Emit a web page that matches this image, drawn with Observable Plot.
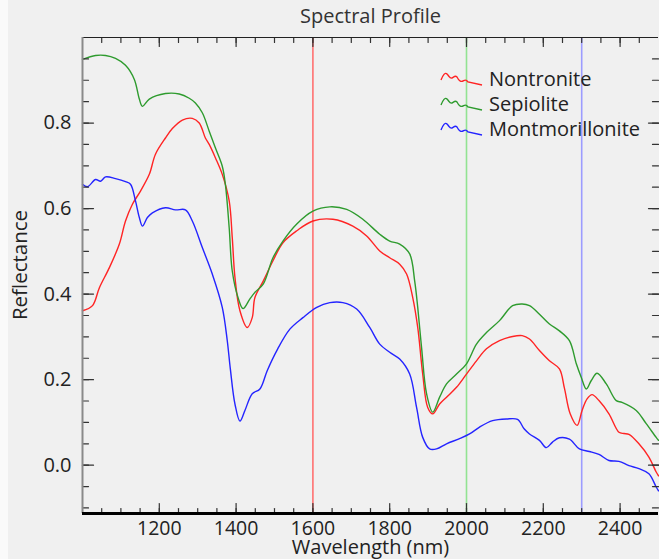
<!DOCTYPE html>
<html><head><meta charset="utf-8">
<script src="https://cdn.jsdelivr.net/npm/d3@7"></script>
<script src="https://cdn.jsdelivr.net/npm/@observablehq/plot@0.6"></script>
<style>
html,body{margin:0;padding:0;background:#f0f0f0;}
#chart{position:relative;width:659px;height:559px;}
</style>
</head><body><div id="chart"></div>
<script>
// ---- data ----
const seriesNames = ["Nontronite", "Sepiolite", "Montmorillonite"];
const seriesColors = ["#ff2424", "#2e9b2e", "#2424ff"];

const nontroniteWl = [1000,1026,1044,1070,1096,1112,1130,1151,1174,1190,1216,1234,1260,1286,1304,1320,1330,1346,1364,1382,1390,1397,1410,1429,1442,1449,1471,1496,1522,1558,1600,1652,1704,1740,1774,1800,1826,1844,1860,1873,1886,1899,1912,1930,1948,1974,2000,2026,2052,2086,2120,2145,2164,2190,2216,2242,2255,2270,2288,2301,2314,2327,2345,2371,2397,2410,2423,2449,2475,2494,2500];
const nontroniteR = [0.361,0.373,0.415,0.462,0.517,0.571,0.610,0.641,0.680,0.727,0.765,0.787,0.807,0.811,0.800,0.765,0.750,0.719,0.680,0.618,0.532,0.439,0.361,0.322,0.345,0.392,0.431,0.478,0.520,0.548,0.571,0.575,0.559,0.536,0.501,0.485,0.470,0.447,0.392,0.322,0.213,0.135,0.120,0.143,0.159,0.182,0.213,0.244,0.272,0.291,0.301,0.303,0.295,0.268,0.244,0.225,0.180,0.120,0.093,0.128,0.155,0.165,0.151,0.120,0.077,0.074,0.072,0.050,0.019,-0.016,-0.025];

const sepioliteWl = [1000,1034,1060,1086,1112,1135,1148,1156,1174,1216,1252,1278,1294,1312,1330,1346,1364,1372,1382,1390,1405,1418,1436,1449,1471,1496,1522,1558,1600,1644,1688,1730,1774,1800,1826,1852,1865,1873,1883,1896,1912,1930,1948,1974,2000,2026,2052,2086,2120,2145,2164,2190,2216,2242,2268,2286,2299,2312,2325,2340,2364,2390,2405,2442,2468,2494,2500];
const sepioliteR = [0.949,0.958,0.958,0.951,0.935,0.902,0.856,0.839,0.856,0.869,0.868,0.858,0.847,0.824,0.781,0.742,0.699,0.657,0.555,0.454,0.392,0.366,0.389,0.404,0.424,0.485,0.524,0.564,0.594,0.604,0.598,0.575,0.540,0.524,0.517,0.494,0.431,0.369,0.275,0.167,0.124,0.159,0.190,0.213,0.237,0.283,0.310,0.338,0.373,0.377,0.373,0.353,0.330,0.314,0.291,0.237,0.205,0.178,0.198,0.215,0.190,0.151,0.147,0.128,0.097,0.065,0.058];

const montmorilloniteWl = [1000,1013,1034,1047,1060,1086,1112,1125,1138,1148,1156,1169,1182,1216,1242,1268,1286,1312,1338,1364,1377,1385,1397,1410,1423,1442,1462,1481,1506,1540,1574,1610,1644,1678,1714,1748,1774,1800,1826,1852,1870,1886,1904,1922,1948,1982,2008,2034,2068,2104,2133,2150,2164,2190,2208,2224,2242,2268,2294,2320,2345,2371,2397,2423,2449,2475,2494,2500];
const montmorilloniteR = [0.657,0.651,0.668,0.664,0.674,0.670,0.663,0.657,0.618,0.579,0.559,0.579,0.590,0.602,0.597,0.597,0.571,0.509,0.447,0.369,0.291,0.225,0.143,0.103,0.128,0.167,0.178,0.221,0.268,0.318,0.345,0.369,0.380,0.380,0.365,0.322,0.283,0.264,0.248,0.213,0.135,0.065,0.038,0.038,0.050,0.062,0.073,0.089,0.104,0.108,0.107,0.085,0.073,0.058,0.041,0.054,0.064,0.061,0.038,0.032,0.025,0.011,0.009,-0.001,-0.008,-0.020,-0.051,-0.060];

const markerWl = [1600, 2000, 2300];
const markerColors = ["#ff7070", "#92e392", "#9c9cff"];

const xTickLabels = [1200, 1400, 1600, 1800, 2000, 2200, 2400];
const yTickLabels = [0.0, 0.2, 0.4, 0.6, 0.8];
const xMinor = d3.range(1050, 2500, 50);
const yMinor = d3.range(-0.1, 0.999, 0.05).map(v => +v.toFixed(2));
const xDomain = [1000, 2500];
const yDomain = [-0.113, 1.0];

// ---- build table ----
const wls = [nontroniteWl, sepioliteWl, montmorilloniteWl];
const vals = [nontroniteR, sepioliteR, montmorilloniteR];
const rows = seriesNames.flatMap((name, i) => wls[i].map((w, j) => ({name, wl: w, r: vals[i][j]})));
const markers = markerWl.map((w, i) => ({wl: w, c: markerColors[i]}));

const tickShape = {draw(ctx, l) { ctx.moveTo(0, 0); ctx.lineTo(0, -l); }};
const tk = (data, opts) => Plot.vector(data, {shape: tickShape, anchor: "start", stroke: "#333", strokeWidth: 1.2, ...opts});

const font = "'Open Sans', 'Noto Sans', sans-serif";

const chart = Plot.plot({
  width: 659, height: 559,
  marginLeft: 82, marginRight: 1, marginTop: 37, marginBottom: 46,
  style: {background: "#f0f0f0", fontFamily: font, fontSize: "19px", color: "#222", overflow: "visible"},
  x: {domain: xDomain, axis: null},
  y: {domain: yDomain, axis: null},
  color: {domain: seriesNames, range: seriesColors},
  marks: [
    Plot.ruleX(markers, {x: "wl", stroke: "c", strokeWidth: 1.6}),
    Plot.line(rows, {x: "wl", y: "r", z: "name", stroke: "name", strokeWidth: 1.4, curve: "catmull-rom"}),
    // inward ticks
    tk(xMinor, {x: d => d, frameAnchor: "bottom", length: 5, rotate: 0}),
    tk(xTickLabels, {x: d => d, frameAnchor: "bottom", length: 10, rotate: 0}),
    tk(xMinor, {x: d => d, frameAnchor: "top", length: 5, rotate: 180}),
    tk(xTickLabels, {x: d => d, frameAnchor: "top", length: 9, rotate: 180}),
    tk(yMinor, {y: d => d, frameAnchor: "left", length: 6, rotate: 90}),
    tk(yTickLabels, {y: d => d, frameAnchor: "left", length: 11, rotate: 90}),
    tk(yMinor, {y: d => d, frameAnchor: "right", length: 6, rotate: -90}),
    tk(yTickLabels, {y: d => d, frameAnchor: "right", length: 10, rotate: -90}),
    // frame lines
    Plot.ruleY([yDomain[1]], {stroke: "#222", strokeWidth: 1}),
    Plot.ruleX([xDomain[0]], {stroke: "#8a8a8a", strokeWidth: 2}),
    Plot.ruleY([yDomain[0]], {stroke: "#000", strokeWidth: 3.2}),
    // tick labels
    Plot.text(xTickLabels, {x: d => d, frameAnchor: "bottom", dy: 15.5, lineAnchor: "middle", text: d => String(d), fill: "#222", fontSize: 19.5}),
    Plot.text(yTickLabels, {y: d => d, frameAnchor: "left", dx: -11, textAnchor: "end", lineAnchor: "middle", text: d => d.toFixed(1), fill: "#222", fontSize: 20}),
    // axis title (x) and chart title
    Plot.text(["Wavelength (nm)"], {frameAnchor: "bottom", dy: 34, lineAnchor: "middle", fill: "#222", fontSize: 20}),
    Plot.text(["Spectral Profile"], {frameAnchor: "top", dy: -21, lineAnchor: "middle", fill: "#333", fontSize: 20})
  ]
});

const svg = d3.select(chart);
svg.append("rect").attr("x", 0).attr("y", 0).attr("width", 8).attr("height", 559).attr("fill", "#fafafa");
// y axis title
svg.append("text").attr("transform", "translate(20,265) rotate(-90)").attr("text-anchor", "middle")
  .attr("dy", "0.35em").attr("font-family", font).attr("font-size", 20.5).attr("fill", "#222").text("Reflectance");
// legend
const leg = svg.append("g").attr("text-anchor", "start");
const wiggle = "M0,7 C2,2 4,-1 6,1 C8,3 9,6 11,5 C13,4 14,2 16,4 C18,8 20,9 22,8 C24,7 25,6 27,9 L41,12";
seriesNames.forEach((name, i) => {
  const yc = 79 + i * 25;
  leg.append("path").attr("d", wiggle).attr("transform", `translate(441,${yc - 6})`)
    .attr("fill", "none").attr("stroke", seriesColors[i]).attr("stroke-width", 1.4);
  leg.append("text").attr("x", 489).attr("y", yc).attr("dy", "0.35em").attr("text-anchor", "start")
    .attr("font-family", font).attr("font-size", 20).attr("fill", "#222").text(name);
});

document.getElementById("chart").appendChild(chart);
</script></body></html>
